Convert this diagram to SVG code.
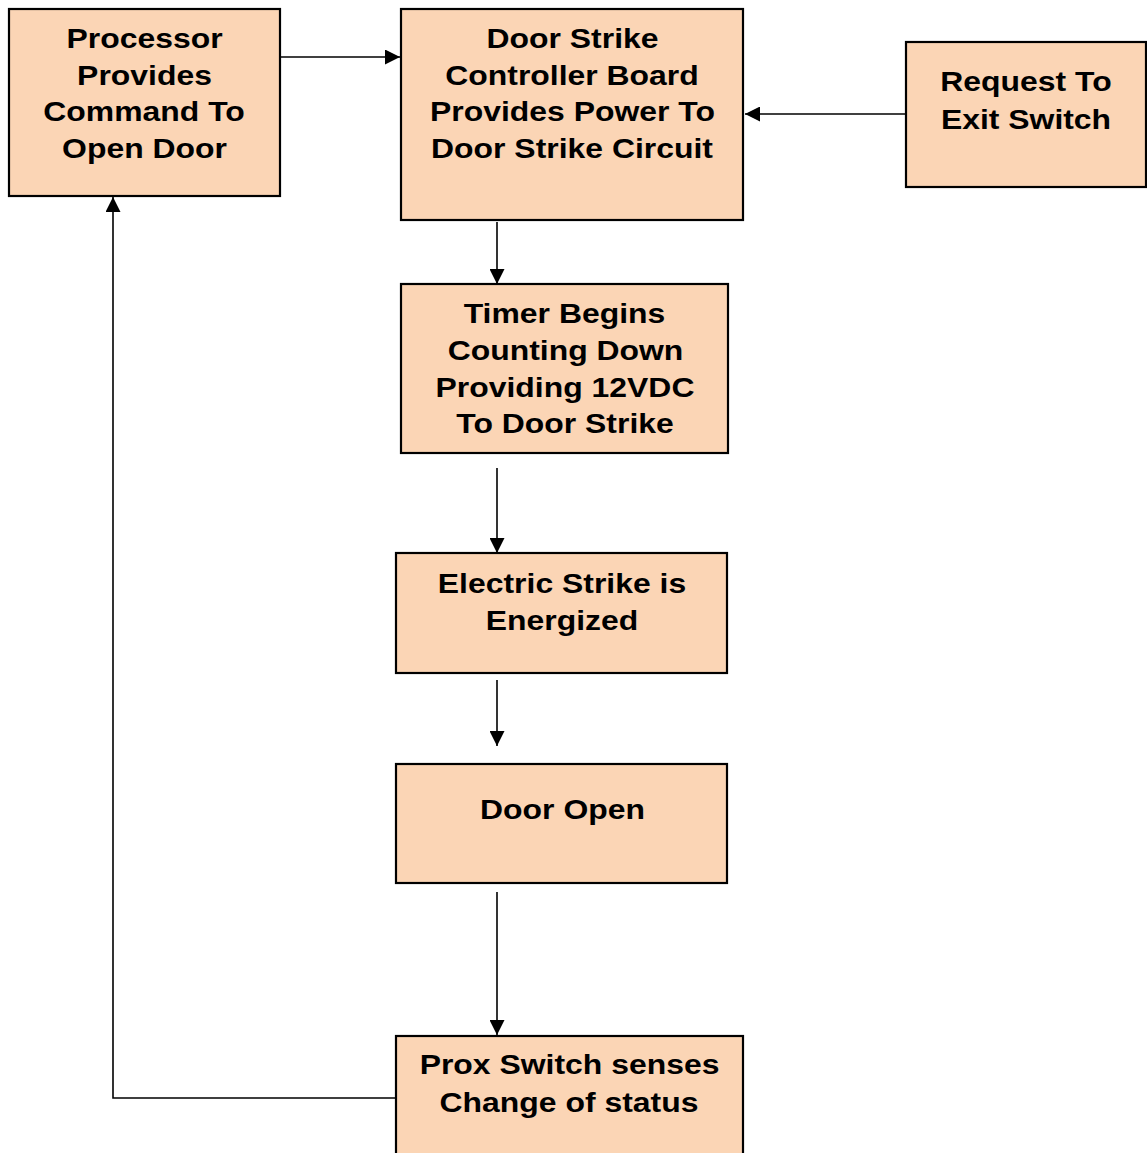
<svg xmlns="http://www.w3.org/2000/svg" width="1147" height="1153" viewBox="0 0 1147 1153">
<style>
.box{fill:#FBD5B5;stroke:#000;stroke-width:2.2}
.t{font-family:"Liberation Sans",Arial,Helvetica,sans-serif;font-weight:bold;font-size:28.5px;fill:#000;text-anchor:middle}
.c{fill:none;stroke:#000;stroke-width:1.6}
</style>
<defs>
<marker id="ah" viewBox="0 0 15 15" refX="15" refY="7.5" markerWidth="15" markerHeight="15" markerUnits="userSpaceOnUse" orient="auto">
<path d="M0,0 L15,7.5 L0,15 Z" fill="#000"/>
</marker>
</defs>
<rect width="1147" height="1153" fill="#fff"/>
<g id="connectors">
<path class="c" d="M280,57 H400" marker-end="url(#ah)"/>
<path class="c" d="M906,114 H745" marker-end="url(#ah)"/>
<path class="c" d="M497,222 V284" marker-end="url(#ah)"/>
<path class="c" d="M497,468 V553" marker-end="url(#ah)"/>
<path class="c" d="M497,680 V746" marker-end="url(#ah)"/>
<path class="c" d="M497,892 V1035" marker-end="url(#ah)"/>
<path class="c" d="M396,1098 H113 V197" marker-end="url(#ah)"/>
</g>
<g id="processor">
<rect class="box" x="9" y="9" width="271" height="187"/>
<text class="t" transform="translate(144.5 48) scale(1.12 1)">Processor</text>
<text class="t" transform="translate(144.5 85) scale(1.12 1)">Provides</text>
<text class="t" transform="translate(144 121) scale(1.12 1)">Command To</text>
<text class="t" transform="translate(144.5 158) scale(1.12 1)">Open Door</text>
</g>
<g id="controller">
<rect class="box" x="401" y="9" width="342" height="211"/>
<text class="t" transform="translate(572.5 48) scale(1.12 1)">Door Strike</text>
<text class="t" transform="translate(572 85) scale(1.12 1)">Controller Board</text>
<text class="t" transform="translate(572.5 121) scale(1.12 1)">Provides Power To</text>
<text class="t" transform="translate(572 158) scale(1.12 1)">Door Strike Circuit</text>
</g>
<g id="request-exit">
<rect class="box" x="906" y="42" width="240" height="145"/>
<text class="t" transform="translate(1026 91) scale(1.12 1)">Request To</text>
<text class="t" transform="translate(1026 129) scale(1.12 1)">Exit Switch</text>
</g>
<g id="timer">
<rect class="box" x="401" y="284" width="327" height="169"/>
<text class="t" transform="translate(564.5 323) scale(1.12 1)">Timer Begins</text>
<text class="t" transform="translate(565.5 360) scale(1.12 1)">Counting Down</text>
<text class="t" transform="translate(565 397) scale(1.12 1)">Providing 12VDC</text>
<text class="t" transform="translate(565 433) scale(1.12 1)">To Door Strike</text>
</g>
<g id="electric-strike">
<rect class="box" x="396" y="553" width="331" height="120"/>
<text class="t" transform="translate(562 593) scale(1.12 1)">Electric Strike is</text>
<text class="t" transform="translate(562 630) scale(1.12 1)">Energized</text>
</g>
<g id="door-open">
<rect class="box" x="396" y="764" width="331" height="119"/>
<text class="t" transform="translate(562.5 819) scale(1.12 1)">Door Open</text>
</g>
<g id="prox-switch">
<rect class="box" x="396" y="1036" width="347" height="130"/>
<text class="t" transform="translate(569.5 1074) scale(1.12 1)">Prox Switch senses</text>
<text class="t" transform="translate(569 1112) scale(1.12 1)">Change of status</text>
</g>
</svg>
